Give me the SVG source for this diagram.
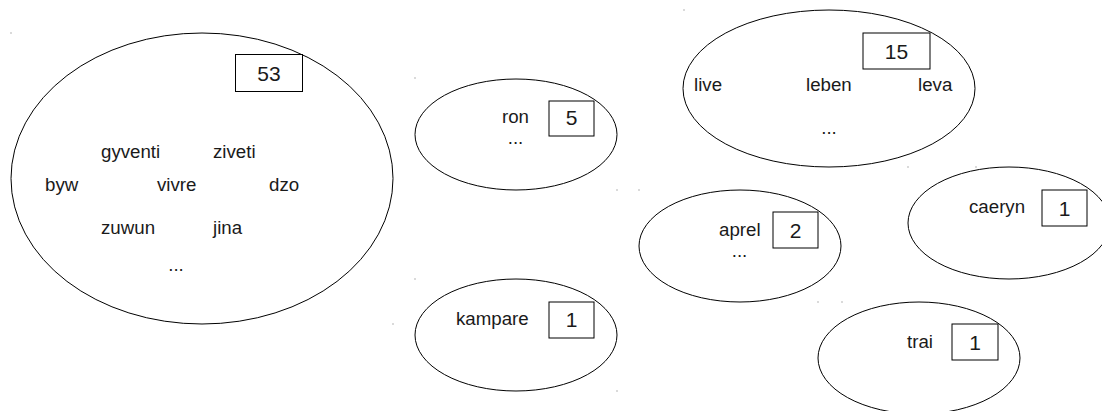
<svg xmlns="http://www.w3.org/2000/svg" width="1102" height="411" viewBox="0 0 1102 411">
<style>
.el{fill:none;stroke:#000;stroke-width:1}
.bx{fill:#fff;stroke:#000;stroke-width:1}
.w{font-family:"Liberation Sans",Arial,sans-serif;font-size:18.7px;fill:#1a1a1a}
.n{font-family:"Liberation Sans",Arial,sans-serif;font-size:21px;fill:#1a1a1a;text-anchor:middle}
.m{text-anchor:middle}
.dot{fill:#999}
</style>
<rect width="1102" height="411" fill="#fff"/>
<g id="connectors">
<circle class="dot" cx="11" cy="33" r="0.7"/><circle class="dot" cx="393" cy="324" r="0.7"/>
<circle class="dot" cx="415" cy="78" r="0.7"/><circle class="dot" cx="617" cy="190" r="0.7"/>
<circle class="dot" cx="415" cy="279" r="0.7"/><circle class="dot" cx="617" cy="391" r="0.7"/>
<circle class="dot" cx="684" cy="10" r="0.7"/><circle class="dot" cx="976" cy="167" r="0.7"/>
<circle class="dot" cx="639" cy="190" r="0.7"/><circle class="dot" cx="842" cy="302" r="0.7"/>
<circle class="dot" cx="908" cy="167" r="0.7"/>
<circle class="dot" cx="818" cy="302" r="0.7"/>
</g>
<g id="group53">
<ellipse class="el" cx="202" cy="178.5" rx="191" ry="145.5"/>
<rect class="bx" x="235.5" y="54.5" width="67" height="37"/>
<text class="n" x="269" y="80.5">53</text>
<text class="w" x="101" y="158">gyventi</text>
<text class="w" x="213" y="158">ziveti</text>
<text class="w" x="45" y="191">byw</text>
<text class="w" x="157" y="191">vivre</text>
<text class="w" x="269" y="191">dzo</text>
<text class="w" x="101" y="234">zuwun</text>
<text class="w" x="213" y="234">jina</text>
<text class="w m" x="176" y="271">...</text>
</g>
<g id="groupRon">
<ellipse class="el" cx="516" cy="134.5" rx="101" ry="55.5"/>
<rect class="bx" x="549" y="101" width="45" height="35"/>
<text class="n" x="571.5" y="125">5</text>
<text class="w" x="502" y="123">ron</text>
<text class="w m" x="515.5" y="144">...</text>
</g>
<g id="groupKampare">
<ellipse class="el" cx="516" cy="335" rx="101" ry="56"/>
<rect class="bx" x="549" y="302" width="45" height="36"/>
<text class="n" x="571.5" y="327">1</text>
<text class="w" x="456" y="325">kampare</text>
</g>
<g id="group15">
<ellipse class="el" cx="829" cy="88.5" rx="146" ry="78.5"/>
<rect class="bx" x="863" y="33" width="67" height="36"/>
<text class="n" x="896.5" y="59">15</text>
<text class="w" x="694" y="91">live</text>
<text class="w" x="806" y="91">leben</text>
<text class="w" x="918" y="91">leva</text>
<text class="w m" x="829" y="134">...</text>
</g>
<g id="groupAprel">
<ellipse class="el" cx="740" cy="246" rx="101" ry="56"/>
<rect class="bx" x="773" y="212" width="45" height="36"/>
<text class="n" x="795.5" y="238">2</text>
<text class="w" x="719" y="236">aprel</text>
<text class="w m" x="739.5" y="257">...</text>
</g>
<g id="groupCaeryn">
<ellipse class="el" cx="1009" cy="223" rx="101" ry="56"/>
<rect class="bx" x="1042" y="190" width="45" height="36"/>
<text class="n" x="1064.5" y="216">1</text>
<text class="w" x="969" y="213">caeryn</text>
</g>
<g id="groupTrai">
<ellipse class="el" cx="919" cy="358" rx="101" ry="56"/>
<rect class="bx" x="952" y="324" width="46" height="36"/>
<text class="n" x="975" y="350">1</text>
<text class="w" x="907" y="348">trai</text>
</g>
</svg>
